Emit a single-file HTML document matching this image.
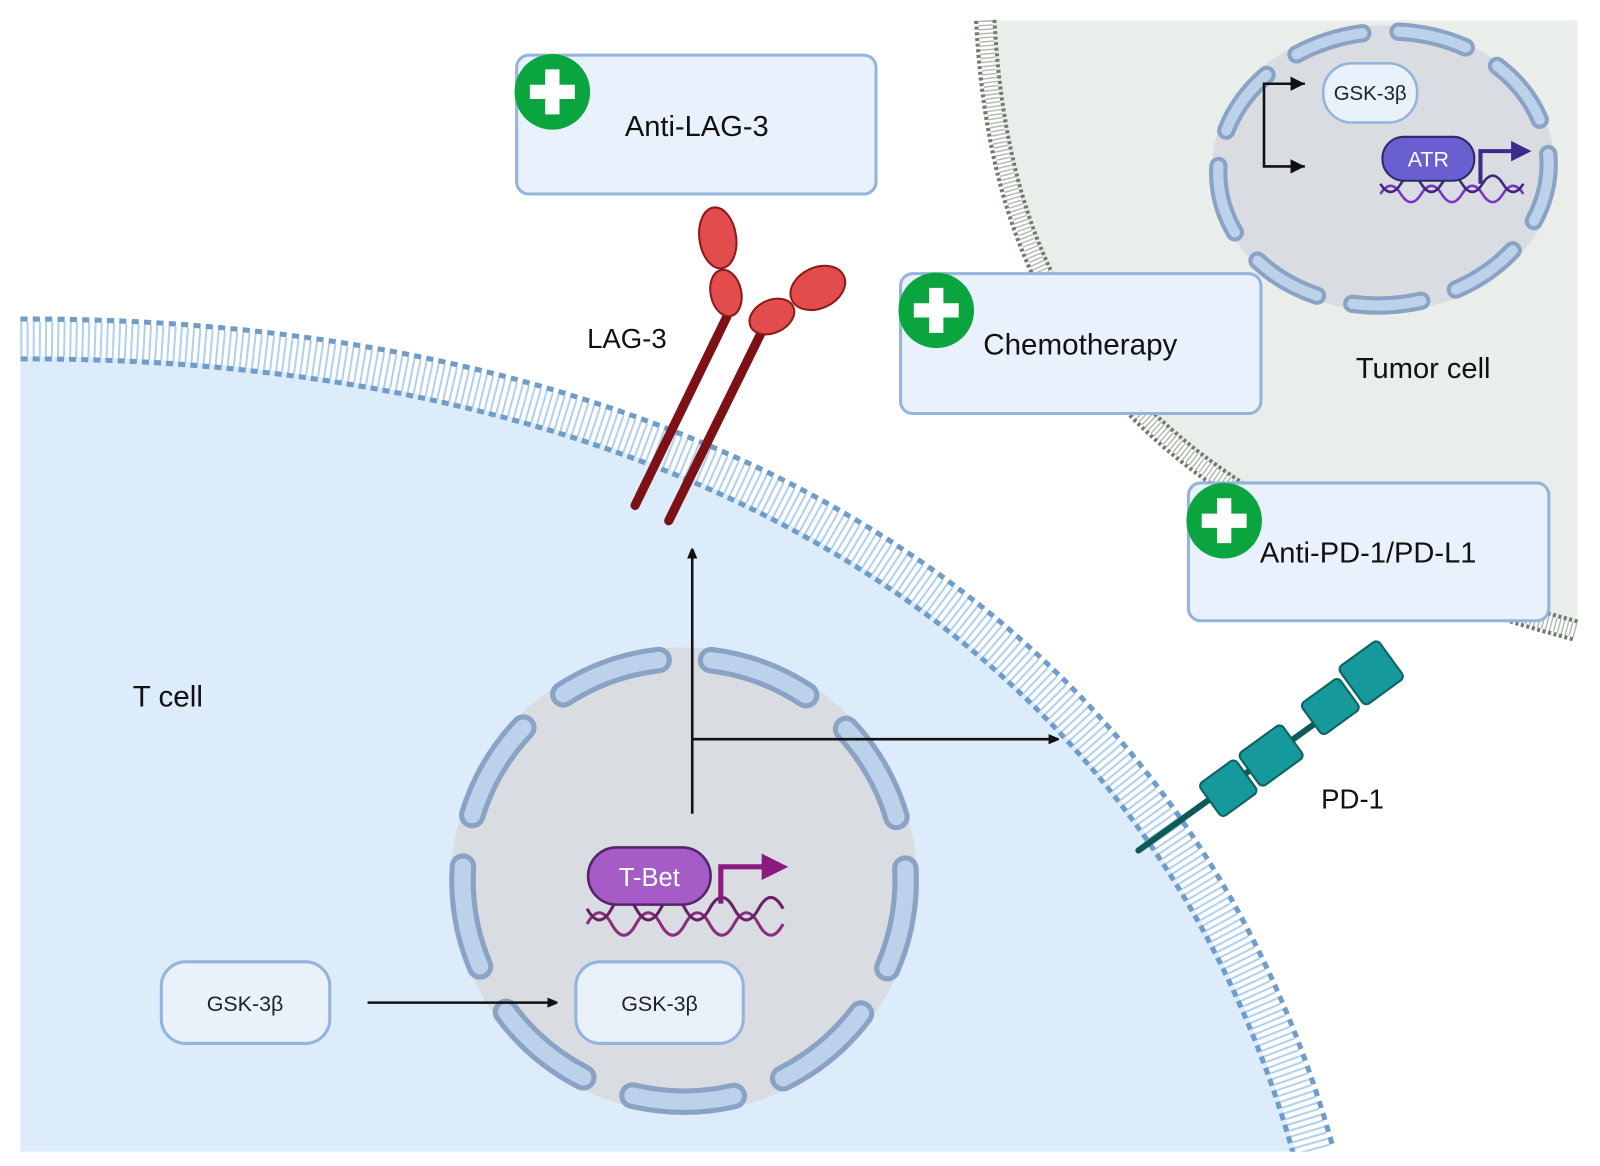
<!DOCTYPE html>
<html><head><meta charset="utf-8"><style>
html,body{margin:0;padding:0;background:#fff;}
svg{display:block;font-family:"Liberation Sans",sans-serif;}
</style></head><body>
<svg width="1600" height="1166" viewBox="0 0 1600 1166" xmlns="http://www.w3.org/2000/svg">
<defs>
<marker id="ah" markerWidth="10" markerHeight="10" refX="9" refY="5" orient="auto" markerUnits="userSpaceOnUse">
<path d="M0,0 L12,5 L0,10 Z" fill="#111"/></marker>
</defs>
<rect width="1600" height="1166" fill="#fff"/>
<g transform="scale(1.021)">
<!-- Tumor cell -->
<path d="M965,20 C980,300 1100,500 1545,618 L1545,20 Z" fill="#e9eeea"/>
<path d="M965,20 C980,300 1100,500 1545,618" fill="none" stroke="#6e7d6c" stroke-width="22" stroke-dasharray="3 2.5"/>
<path d="M965,20 C980,300 1100,500 1545,618" fill="none" stroke="#fff" stroke-width="14"/>
<path d="M965,20 C980,300 1100,500 1545,618" fill="none" stroke="#b6bcb4" stroke-width="14" stroke-dasharray="1.5 2.5"/>
<!-- T cell -->
<path d="M20,332 C600,330 1130,560 1287,1130 L20,1130 Z" fill="#ddecfb"/>
<path d="M20,332 C600,330 1130,560 1287,1130" fill="none" stroke="#6f9cc8" stroke-width="44" stroke-dasharray="7 5"/>
<path d="M20,332 C600,330 1130,560 1287,1130" fill="none" stroke="#fff" stroke-width="34"/>
<path d="M20,332 C600,330 1130,560 1287,1130" fill="none" stroke="#b2d0f0" stroke-width="34" stroke-dasharray="2 4"/>
<rect x="0" y="1128" width="1600" height="40" fill="#fff"/>
<text x="130" y="692" font-size="29" fill="#111">T cell</text>
<!-- T cell nucleus -->
<circle cx="670" cy="862" r="228" fill="#d9dde1"/>
<circle cx="670" cy="862" r="217" fill="none" stroke="#8aa3c4" stroke-width="26" stroke-dasharray="100 51.5" stroke-linecap="round" transform="rotate(-123 670 862)"/>
<circle cx="670" cy="862" r="217" fill="none" stroke="#bcd1ea" stroke-width="16" stroke-dasharray="100 51.5" stroke-linecap="round" transform="rotate(-123 670 862)"/>
<!-- arrows in T cell -->
<line x1="678" y1="797" x2="678" y2="538" stroke="#111" stroke-width="2.5" marker-end="url(#ah)"/>
<line x1="678" y1="724" x2="1036" y2="724" stroke="#111" stroke-width="2.5" marker-end="url(#ah)"/>
<line x1="360" y1="982" x2="545" y2="982" stroke="#111" stroke-width="2.5" marker-end="url(#ah)"/>
<!-- DNA T-bet -->
<path d="M575,905 q12,-22 24,0 t24,0 t24,0 t24,0 t24,0 t24,0 t24,0 t24,0" fill="none" stroke="#8a2c7f" stroke-width="3"/>
<path d="M575,890 q12,22 24,0 t24,0 t24,0 t24,0 t24,0 t24,0 t24,0 t24,0" fill="none" stroke="#6b1f66" stroke-width="3"/>
<path d="M706,885 L706,849 L748,849" fill="none" stroke="#8b1a7e" stroke-width="5"/>
<path d="M746,836 L772,849 L746,862 Z" fill="#8b1a7e"/>
<rect x="576" y="830" width="120" height="56" rx="28" fill="#a55cc6" stroke="#55246a" stroke-width="2.5"/>
<text x="636" y="868" font-size="25" fill="#fff" text-anchor="middle">T-Bet</text>
<!-- GSK boxes -->
<rect x="158" y="942" width="165" height="80" rx="24" fill="#e9f1fb" stroke="#94b3dd" stroke-width="3"/>
<text x="240" y="990" font-size="21" fill="#222" text-anchor="middle">GSK-3β</text>
<rect x="564" y="942" width="164" height="80" rx="24" fill="#e9f1fb" stroke="#94b3dd" stroke-width="3"/>
<text x="646" y="990" font-size="21" fill="#222" text-anchor="middle">GSK-3β</text>
<!-- LAG-3 -->
<line x1="622" y1="495" x2="712" y2="310" stroke="#7e1116" stroke-width="9" stroke-linecap="round"/>
<line x1="655" y1="510" x2="746" y2="325" stroke="#7e1116" stroke-width="9" stroke-linecap="round"/>
<ellipse cx="703" cy="233" rx="18" ry="30" fill="#e24c4c" stroke="#8e1a1a" stroke-width="2" transform="rotate(-8 703 233)"/>
<ellipse cx="711" cy="287" rx="15" ry="23" fill="#e24c4c" stroke="#8e1a1a" stroke-width="2" transform="rotate(-12 711 287)"/>
<ellipse cx="756" cy="310" rx="23" ry="16" fill="#e24c4c" stroke="#8e1a1a" stroke-width="2" transform="rotate(-25 756 310)"/>
<ellipse cx="801" cy="282" rx="28" ry="20" fill="#e24c4c" stroke="#8e1a1a" stroke-width="2" transform="rotate(-25 801 282)"/>
<text x="575" y="341" font-size="27" fill="#111">LAG-3</text>
<!-- PD-1 -->
<line x1="1115" y1="833" x2="1300" y2="700" stroke="#0c5a58" stroke-width="6" stroke-linecap="round"/>
<g fill="#16999b" stroke="#0d6260" stroke-width="2">
<rect x="-22" y="-20" width="44" height="40" rx="5" transform="translate(1203,772) rotate(-36)"/>
<rect x="-26" y="-20" width="52" height="40" rx="5" transform="translate(1245,740) rotate(-36)"/>
<rect x="-23" y="-19" width="46" height="38" rx="5" transform="translate(1303,692) rotate(-36)"/>
<rect x="-24" y="-23" width="48" height="46" rx="5" transform="translate(1343,659) rotate(-36)"/>
</g>
<text x="1294" y="792" font-size="27" fill="#111">PD-1</text>
<!-- Tumor nucleus -->
<ellipse cx="1355" cy="165" rx="168" ry="140" fill="#d9dde1"/>
<ellipse cx="1355" cy="165" rx="162" ry="134" fill="none" stroke="#8aa3c4" stroke-width="18" stroke-dasharray="68 35.6" stroke-linecap="round" transform="rotate(-5 1355 165)"/>
<ellipse cx="1355" cy="165" rx="162" ry="134" fill="none" stroke="#bcd1ea" stroke-width="10" stroke-dasharray="68 35.6" stroke-linecap="round" transform="rotate(-5 1355 165)"/>
<path d="M1278,82 L1238,82 L1238,163 L1278,163" fill="none" stroke="#111" stroke-width="2.5"/>
<path d="M1264,75 L1278,82 L1264,89 Z M1264,156 L1278,163 L1264,170 Z" fill="#111"/>
<rect x="1296" y="62" width="92" height="58" rx="28" fill="#e9f1fb" stroke="#94b3dd" stroke-width="2.5"/>
<text x="1342" y="98" font-size="20" fill="#222" text-anchor="middle">GSK-3β</text>
<path d="M1352,190 q10,-16 20,0 t20,0 t20,0 t20,0 t20,0 t20,0 t20,0" fill="none" stroke="#7d2fc9" stroke-width="2.5"/>
<path d="M1352,180 q10,16 20,0 t20,0 t20,0 t20,0 t20,0 t20,0 t20,0" fill="none" stroke="#3b2a7a" stroke-width="2.5"/>
<path d="M1450,180 L1450,148 L1482,148" fill="none" stroke="#3e2a8c" stroke-width="4"/>
<path d="M1480,138 L1500,148 L1480,158 Z" fill="#3e2a8c"/>
<rect x="1354" y="134" width="90" height="43" rx="21" fill="#6a5fd0" stroke="#2d2a6a" stroke-width="2"/>
<text x="1399" y="163" font-size="21" fill="#fff" text-anchor="middle">ATR</text>
<text x="1328" y="370" font-size="28.5" fill="#111">Tumor cell</text>
<!-- Drug boxes -->
<g stroke="#94b3dd" stroke-width="3" fill="#e9f2fc">
<rect x="506" y="54" width="352" height="136" rx="12"/>
<rect x="882" y="268" width="353" height="137" rx="12"/>
<rect x="1164" y="473" width="353" height="135" rx="12"/>
</g>
<g>
<circle cx="541" cy="90" r="37" fill="#0aa53e"/>
<path d="M534,68 h14 v15 h15 v14 h-15 v15 h-14 v-15 h-15 v-14 h15 z" fill="#fff"/>
<circle cx="917" cy="304" r="37" fill="#0aa53e"/>
<path d="M910,282 h14 v15 h15 v14 h-15 v15 h-14 v-15 h-15 v-14 h15 z" fill="#fff"/>
<circle cx="1199" cy="510" r="37" fill="#0aa53e"/>
<path d="M1192,488 h14 v15 h15 v14 h-15 v15 h-14 v-15 h-15 v-14 h15 z" fill="#fff"/>
</g>
<text x="612" y="133" font-size="28.5" fill="#111">Anti-LAG-3</text>
<text x="963" y="347" font-size="29" fill="#111">Chemotherapy</text>
<text x="1234" y="551" font-size="28.5" fill="#111">Anti-PD-1/PD-L1</text>
</g>
</svg>
</body></html>
